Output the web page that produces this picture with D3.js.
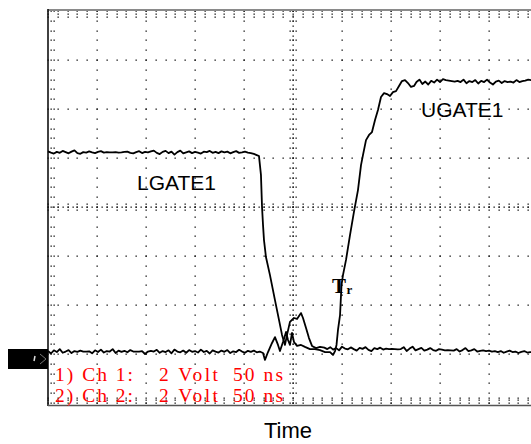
<!DOCTYPE html>
<html>
<head>
<meta charset="utf-8">
<script src="https://cdn.jsdelivr.net/npm/d3@7"></script>
<style>
  body { margin: 0; background: #fff; }
  svg { display: block; }
</style>
</head>
<body>
<svg id="chart"></svg>
<script>
const width = 531;
const height = 444;

// scope settings: 50 ns/div, 2 V/div, 10 x 8 divisions
const timeTicks = d3.range(0, 501, 50);
const voltTicks = d3.range(-2, 15, 2);

// LGATE1 high level, sampled every 3 ns from 0 ns
const lgateHighStep = 3;
const lgateHigh = [
  8.27,8.22,8.18,8.25,8.21,8.29,8.24,8.19,8.26,8.31,8.2,8.17,8.24,8.22,8.27,8.23,8.2,8.25,8.28,8.22,
  8.24,8.23,8.23,8.24,8.22,8.23,8.25,8.26,8.21,8.19,8.24,8.28,8.2,8.25,8.23,8.27,8.3,8.21,8.16,8.25,
  8.29,8.2,8.26,8.14,8.24,8.3,8.19,8.23,8.27,8.2,8.25,8.22,8.18,8.26,8.24,8.29,8.21,8.25,8.2,8.27,
  8.23,8.26,8.19,8.24,8.28,8.21,8.23,8.26,8.22,8.2,8.17,8.12
];
// LGATE1 falling edge [ns, V]
const lgateFall = [
  [215.3,8.08],[217.3,7.31],[218.4,6.0],[219.4,5.27],[220.4,4.65],[222.4,3.96],[226.5,3.22],
  [231.6,2.2],[235.7,1.39],[238.8,0.78],[241.8,0.37],[243.9,0.78],[246.9,1.31],[251,1.47],
  [254.1,1.43],[258.2,1.67],[260.2,1.47],[263.3,1.06],[266.3,0.65],[269.4,0.33],[273.5,0.24],
  [277.6,0.29]
];
// LGATE1 low level, sampled every 3 ns from 282 ns
const lgateLowStart = 282;
const lgateLow = [
  0.26,0.2,0.28,0.18,0.24,0.15,0.3,0.22,0.19,0.27,0.2,0.14,0.25,0.21,0.28,0.17,0.12,0.24,0.2,0.26,
  0.18,0.22,0.2,0.21,0.2,0.19,0.2,0.28,0.12,0.22,0.3,0.15,0.2,0.25,0.14,0.18,0.24,0.16,0.13,0.2,
  0.18,0.15,0.16,0.15,0.14,0.2,0.1,0.16,0.24,0.12,0.15,0.2,0.1,0.13,0.15,0.12,0.14,0.1,0.12,0.08,
  0.12,0.05,0.1,0.14,0.08,0.1,0.04,0.09,0.12,0.06,0.08,0.07
];

// UGATE1 low level, sampled every 3 ns from 0 ns
const ugateLow = [
  0.12,0.02,0.15,0.08,0.2,0.05,0.1,0.16,0.04,0.12,0.09,0.14,0.1,0.1,0.11,0.03,0.15,0.08,0.18,0.06,
  0.12,0.1,0.2,0.04,0.14,0.09,0.13,0.07,0.16,0.1,0.1,0.1,0.12,0.0,0.1,0.13,0.1,0.17,0.05,0.12,
  0.08,0.15,0.03,0.18,0.1,0.07,0.14,0.05,0.16,0.09,0.12,0.06,0.18,0.08,0.13,0.02,0.15,0.1,0.06,0.14,
  0.09,0.16,0.04,0.11,0.08,0.17,0.1,0.05,0.13,0.09,0.14,0.07,0.1
];
// UGATE1 rising edge [ns, V]
const ugateRise = [
  [219.4,0.04],[221.4,-0.24],[224.5,0.08],[228.6,0.45],[231.6,0.69],[234.7,0.37],[236.7,0.12],
  [239.8,0.49],[242.9,0.9],[244.9,0.57],[246.9,0.37],[249,0.86],[251,0.49],[254.1,0.33],
  [258.2,0.37],[262.2,0.29],[267.3,0.2],[272.4,0.2],[277.6,0.16],[282.7,0.08],[287.8,0.08],
  [290.8,-0.04],[292.9,0.12],[294.4,0.37],[295.9,0.98],[298,1.59],[299.5,2.82],[301,3.22],
  [304.1,3.84],[308.2,4.86],[312.2,5.8],[316.3,6.69],[319.4,7.71],[321.4,8.12],[324.5,8.73],
  [327.6,8.94],[330.6,9.06],[333.7,9.55],[336.7,9.96],[339.8,10.49],[342.9,10.65],[345.9,10.61],
  [349,10.53],[352,10.69],[355.1,10.73],[358.2,10.94],[361.2,11.14],[364.3,11.18],[367.3,11.06],
  [370.4,10.9],[373.5,10.94]
];
// UGATE1 high level, sampled every 3 ns from 376 ns
const ugateHighStart = 376;
const ugateHigh = [
  11.1,11.2,11.02,11.12,11.0,11.15,11.08,11.2,11.1,11.22,11.18,11.16,11.14,11.12,11.15,11.1,11.2,11.05,11.14,11.1,
  11.18,11.04,11.15,11.1,11.2,11.08,11.0,11.12,11.16,11.06,11.14,11.1,11.12,11.08,11.18,11.1,11.14,11.16,11.2,11.18
];

const svg = d3.select('#chart')
  .attr('width', width)
  .attr('height', height);

const x = d3.scaleLinear().domain([0, 500]).range([48, 538]);
const y = d3.scaleLinear().domain([-2, 14]).range([403, 11]);

const sampled = (vals, t0, step) => vals.map((v, i) => [t0 + i * step, v]);

const lgate = sampled(lgateHigh, 0, lgateHighStep)
  .concat(lgateFall, sampled(lgateLow, lgateLowStart, 3));
const ugate = sampled(ugateLow, 0, 3)
  .concat(ugateRise, sampled(ugateHigh, ugateHighStart, 3));

// grid dots
const dots = [];
const minorT = d3.range(0, 500.1, 10);
const minorV = d3.range(-2, 14.01, 0.4);
const halfT = d3.range(0, 500.1, 5);
const halfV = d3.range(-2, 14.01, 0.2);
const x0 = x(0), y0 = y(14), y1 = y(-2);
const cx = x(250), cy = y(6);

timeTicks.slice(1).forEach(t => minorV.forEach(v => dots.push([x(t), y(v)])));
voltTicks.forEach(v => minorT.forEach(t => dots.push([x(t), y(v)])));
minorV.forEach(v => { dots.push([x0 + 2.5, y(v)]); dots.push([x0 + 5.5, y(v)]); });
minorT.forEach(t => {
  dots.push([x(t), y0 + 3]); dots.push([x(t), y0 + 5.5]);
  dots.push([x(t), y1 - 3]); dots.push([x(t), y1 - 5.5]);
});
halfV.forEach(v => dots.push([cx, y(v)]));
minorV.forEach(v => { dots.push([cx - 3, y(v)]); dots.push([cx + 3, y(v)]); });
halfT.forEach(t => dots.push([x(t), cy]));
minorT.forEach(t => { dots.push([x(t), cy - 3]); dots.push([x(t), cy + 3]); });

svg.append('g')
  .attr('class', 'grid')
  .selectAll('rect')
  .data(dots)
  .enter()
  .append('rect')
  .attr('x', d => Math.round(d[0]) - 0.5)
  .attr('y', d => Math.round(d[1]) - 0.5)
  .attr('width', 1.3)
  .attr('height', 1.3)
  .attr('fill', '#111');

// frame
svg.append('line')
  .attr('x1', x0).attr('x2', width).attr('y1', 10).attr('y2', 10)
  .attr('stroke', '#8a8a8a').attr('stroke-width', 2);
svg.append('line')
  .attr('x1', 48).attr('x2', 48).attr('y1', 9).attr('y2', 406)
  .attr('stroke', '#111').attr('stroke-width', 1.6);
svg.append('line')
  .attr('x1', 48).attr('x2', width).attr('y1', 405.5).attr('y2', 405.5)
  .attr('stroke', '#555').attr('stroke-width', 1.3);

// traces
const line = d3.line()
  .x(d => x(d[0]))
  .y(d => y(d[1]));

[lgate, ugate].forEach(trace => {
  svg.append('path')
    .datum(trace)
    .attr('d', line)
    .attr('fill', 'none')
    .attr('stroke', '#000')
    .attr('stroke-width', 1.8)
    .attr('stroke-linejoin', 'round');
});

// ground marker
svg.append('rect')
  .attr('x', 8).attr('y', 349).attr('width', 40).attr('height', 20)
  .attr('fill', '#000');
svg.append('line')
  .attr('x1', 35).attr('y1', 356).attr('x2', 34).attr('y2', 361)
  .attr('stroke', '#ddd').attr('stroke-width', 1.5);
svg.append('polyline')
  .attr('points', '40,354 46,359 40,364')
  .attr('fill', 'none').attr('stroke', '#777').attr('stroke-width', 1);

// labels
const sans = "Arial, 'Liberation Sans', sans-serif";
const serif = "'Times New Roman', 'Liberation Serif', serif";

svg.append('text')
  .attr('x', 137).attr('y', 190)
  .style('font-family', sans).style('font-size', '21px')
  .text('LGATE1');
svg.append('text')
  .attr('x', 421).attr('y', 117)
  .style('font-family', sans).style('font-size', '21px')
  .text('UGATE1');

svg.append('text')
  .attr('x', 332).attr('y', 293)
  .style('font-family', serif).style('font-size', '21px').style('font-weight', 'bold')
  .text('T');
svg.append('text')
  .attr('x', 346.5).attr('y', 294)
  .style('font-family', serif).style('font-size', '13px').style('font-weight', 'bold')
  .text('r');

const channelRows = [['1) Ch 1:', '2 Volt', '50 ns'], ['2) Ch 2:', '2 Volt', '50 ns']];
const colX = [55, 159, 233];
const colLen = [78, 59, 50];
channelRows.forEach((row, r) => {
  row.forEach((s, c) => {
    svg.append('text')
      .attr('x', colX[c]).attr('y', 381 + r * 21)
      .attr('textLength', colLen[c]).attr('lengthAdjust', 'spacing')
      .style('font-family', serif).style('font-size', '19.5px')
      .attr('fill', '#ff0000')
      .text(s);
  });
});

svg.append('text')
  .attr('x', 288).attr('y', 438)
  .attr('text-anchor', 'middle')
  .style('font-family', sans).style('font-size', '22px')
  .text('Time');
</script>
</body>
</html>
